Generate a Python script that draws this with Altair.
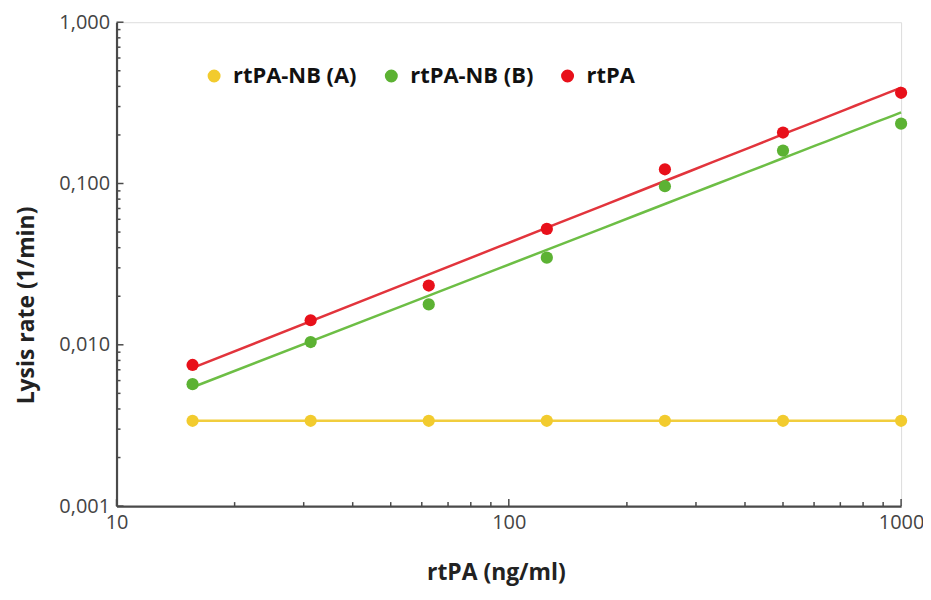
import altair as alt
import pandas as pd

# --- data ---
conc = [15.625, 31.25, 62.5, 125, 250, 500, 1000]
series_names = ["rtPA-NB (A)", "rtPA-NB (B)", "rtPA"]
rate_a = [0.00338, 0.00338, 0.00338, 0.00338, 0.00338, 0.00338, 0.00338]
rate_b = [0.0057, 0.0104, 0.0178, 0.0347, 0.0962, 0.160, 0.235]
rate_r = [0.0075, 0.0142, 0.0233, 0.0523, 0.1225, 0.207, 0.365]
colors = ["#F2CB2E", "#5CB233", "#E8101A"]
line_colors = ["#F1CD3D", "#6DBE45", "#E2343C"]

y_major = [0.001, 0.01, 0.1, 1]
y_minor = [m * d for d in [0.001, 0.01, 0.1] for m in range(2, 10)]
x_major = [10, 100, 1000]
x_minor = [m * d for d in [10, 100] for m in range(2, 10)]

rows = []
for name, vals in zip(series_names, [rate_a, rate_b, rate_r]):
    for c, v in zip(conc, vals):
        rows.append({"x": c, "y": v, "series": name})
df = pd.DataFrame(rows)

W, H = 788, 486
FONT = "Open Sans"

xscale = alt.Scale(type="log", domain=[10, 1000], nice=False)
yscale = alt.Scale(type="log", domain=[0.001, 1], nice=False)

xaxis = alt.Axis(values=x_major, format="d", ticks=False, grid=False,
                 labelFlush=False,
                 domainColor="#4a4a4a", domainWidth=2.2,
                 labelFont=FONT, labelFontSize=20, labelColor="#444444",
                 labelPadding=7, title="rtPA (ng/ml)", titleFont=FONT,
                 titleFontSize=23, titleFontWeight="bold", titleColor="#222222",
                 titleX=381, titleY=67, titleBaseline="middle")
yaxis = alt.Axis(values=y_major, ticks=False, grid=False,
                 labelFlush=False,
                 labelExpr="replace(format(datum.value, '.3f'), '.', ',')",
                 domainColor="#4a4a4a", domainWidth=2.2,
                 labelFont=FONT, labelFontSize=20, labelColor="#444444",
                 labelPadding=7, title="Lysis rate (1/min)", titleFont=FONT,
                 titleFontSize=23, titleFontWeight="bold", titleColor="#222222",
                 titleX=-90, titleY=284, titleBaseline="middle")

base = alt.Chart(df)

fit = base.transform_regression(
    "x", "y", groupby=["series"], method="pow", extent=[15.625, 1000]
).mark_line(strokeWidth=2.5).encode(
    x=alt.X("x:Q", scale=xscale, axis=xaxis),
    y=alt.Y("y:Q", scale=yscale, axis=yaxis),
    color=alt.Color("series:N", scale=alt.Scale(domain=series_names, range=line_colors),
                    legend=None),
)

pts = base.mark_circle(size=150, opacity=1).encode(
    x=alt.X("x:Q", scale=xscale, axis=xaxis),
    y=alt.Y("y:Q", scale=yscale, axis=yaxis),
    color=alt.Color("series:N",
                    scale=alt.Scale(domain=series_names, range=colors),
                    legend=alt.Legend(title=None, orient="none", direction="horizontal",
                                      legendX=87, legendY=43,
                                      labelFont=FONT, labelFontSize=22,
                                      labelFontWeight="bold", labelColor="#111111",
                                      symbolType="circle", symbolSize=170,
                                      symbolStrokeWidth=0, labelOffset=8,
                                      columnPadding=23)),
)

ytick_df = pd.DataFrame({"y": y_major + y_minor,
                         "len": [6] * len(y_major) + [4] * len(y_minor)})
xtick_df = pd.DataFrame({"x": x_major + x_minor,
                         "len": [6] * len(x_major) + [4] * len(x_minor)})

yticks_major = alt.Chart(ytick_df[ytick_df["len"] == 6]).mark_rule(color="#4a4a4a", strokeWidth=1.5).encode(
    y=alt.Y("y:Q", scale=yscale, axis=yaxis), x=alt.value(0), x2=alt.value(7))
yticks_minor = alt.Chart(ytick_df[ytick_df["len"] == 4]).mark_rule(color="#4a4a4a", strokeWidth=1.5).encode(
    y=alt.Y("y:Q", scale=yscale, axis=yaxis), x=alt.value(0), x2=alt.value(4))
xticks_major = alt.Chart(xtick_df[xtick_df["len"] == 6]).mark_rule(color="#4a4a4a", strokeWidth=1.5).encode(
    x=alt.X("x:Q", scale=xscale, axis=xaxis), y=alt.value(H), y2=alt.value(H - 7))
xticks_minor = alt.Chart(xtick_df[xtick_df["len"] == 4]).mark_rule(color="#4a4a4a", strokeWidth=1.5).encode(
    x=alt.X("x:Q", scale=xscale, axis=xaxis), y=alt.value(H), y2=alt.value(H - 4))

chart = alt.layer(fit, yticks_major, yticks_minor, xticks_major, xticks_minor, pts).resolve_scale(
    color="independent"
).resolve_legend(color="independent").properties(
    width=W, height=H,
    autosize=alt.AutoSizeParams(type="none"),
    padding={"left": 109, "top": 13, "right": 22, "bottom": 82},
).configure_view(stroke=None).configure(background="white")

chart.save("out.html", embed_options={"renderer": "svg", "actions": False})
